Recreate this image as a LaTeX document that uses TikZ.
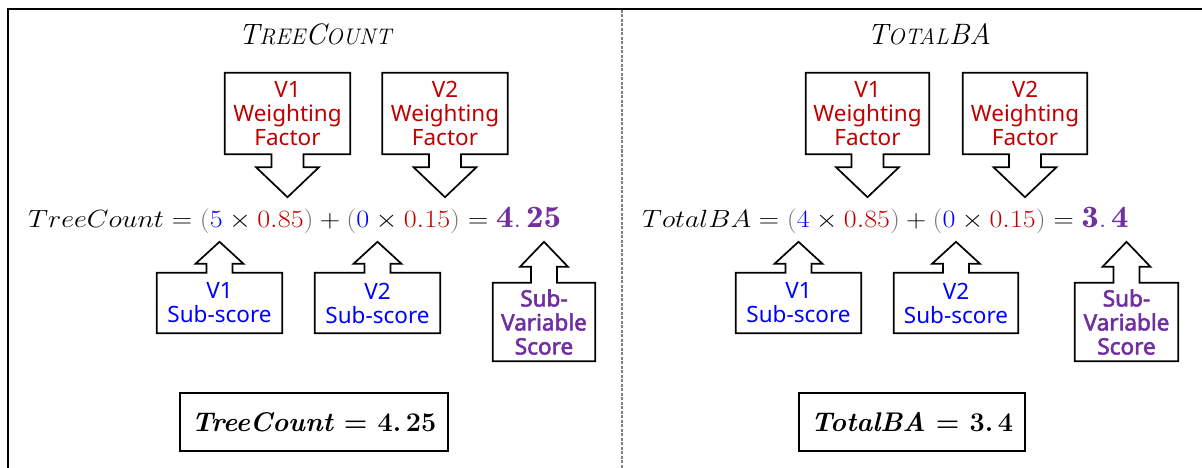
\documentclass[tikz,border=0pt]{standalone}
\usepackage{amsmath}
\usepackage{graphicx}
\usepackage{fontspec}
\usetikzlibrary{calc}
\newfontfamily\calfont{Noto Sans}
\newfontfamily\calbold{Noto Sans}[FakeBold=2.5]
\definecolor{wred}{HTML}{C00000}
\definecolor{sblue}{HTML}{0000FF}
\definecolor{spurple}{HTML}{7030A0}
\definecolor{pgray}{HTML}{767171}
\newcommand\bigcapsl[1]{{\fontsize{29.5}{29.5}\selectfont #1}}
\newcommand\pl[1]{{\color{pgray}#1}}
\tikzset{
  calltext/.style={inner sep=0pt, align=center, font=\calfont\fontsize{22.5}{24}\selectfont},
  boldcall/.style={text=spurple, font=\calbold\fontsize{22.5}{24}\selectfont},
  callline/.style={draw=black, line width=1.7pt, line join=miter},
  resbox/.style={draw=black, line width=1.3pt, inner sep=0pt, font=\bfseries\fontsize{27}{27}\selectfont},
  eqtext/.style={inner sep=0pt, anchor=base west},
  titletext/.style={inner sep=0pt, anchor=base, font=\itshape\fontsize{22.5}{22.5}\selectfont},
}
% down callout: name, center, width, height, style, text
\newcommand\dcall[6]{%
  \node[calltext, minimum width=#3pt, minimum height=#4pt, #5] (#1) at (#2) {#6};
  \draw[callline] (#1.south west) -- (#1.north west) -- (#1.north east) -- (#1.south east)
    -- ($(#1.south)+(16,0)$) -- ($(#1.south)+(16,13)$) -- ($(#1.south)+(31.5,13)$)
    -- ($(#1.south)+(0,43)$) -- ($(#1.south)+(-31.5,13)$) -- ($(#1.south)+(-16,13)$)
    -- ($(#1.south)+(-16,0)$) -- cycle;
}
% up callout: name, center, width, height, style, text, stem length, tip distance
\newcommand\ucall[8]{%
  \node[calltext, minimum width=#3pt, minimum height=#4pt, #5] (#1) at (#2) {#6};
  \draw[callline] (#1.north west) -- (#1.south west) -- (#1.south east) -- (#1.north east)
    -- ($(#1.north)+(13,0)$) -- ($(#1.north)+(13,-#7)$) -- ($(#1.north)+(24,-#7)$)
    -- ($(#1.north)+(0,-#8)$) -- ($(#1.north)+(-24,-#7)$) -- ($(#1.north)+(-13,-#7)$)
    -- ($(#1.north)+(-13,0)$) -- cycle;
}
\begin{document}
\begin{tikzpicture}[x=1pt, y=-1pt]
\useasboundingbox (0,0) rectangle (1202,468);
% frame
\draw[line width=2.5pt] (8,468) -- (8,9) -- (1202,9);
\draw[gray, line width=1.2pt, dash pattern=on 3pt off 1.5pt] (622,10) -- (622,468);

% ---------- left panel ----------
\node[titletext] (tL) at (315,45) {\bigcapsl{T}REE\bigcapsl{C}OUNT};
\dcall{wfL1}{287.5,113.5}{125}{81}{text=wred}{V1\\Weighting\\Factor}
\dcall{wfL2}{445,113.5}{125}{81}{text=wred}{V2\\Weighting\\Factor}
\node[eqtext] (eqL) at (28,227) {\fontsize{31}{31}\selectfont\scalebox{1.132}[1]{%
  $TreeCount = \pl{(}{\color{sblue}5}\times{\color{wred}0.85}\pl{)} + \pl{(}{\color{sblue}0}\times{\color{wred}0.15}\pl{)} = {\color{spurple}\mathbf{4.\,25}}$}};
\ucall{ssL1}{219.5,303}{125}{60}{text=sblue}{V1\\Sub-score}{9}{31}
\ucall{ssL2}{377.5,303}{125}{60}{text=sblue}{V2\\Sub-score}{9}{31}
\ucall{svL}{544,322}{102}{78}{boldcall}{Sub-\\Variable\\Score}{16}{41}
\node[resbox, minimum width=268pt, minimum height=58pt] (resL) at (314,422) {\textit{TreeCount} = 4.\,25};

% ---------- right panel ----------
\node[titletext] (tR) at (929,45) {\bigcapsl{T}OTAL\bigcapsl{BA}};
\dcall{wfR1}{867.5,113.5}{123}{81}{text=wred}{V1\\Weighting\\Factor}
\dcall{wfR2}{1025,113.5}{124}{81}{text=wred}{V2\\Weighting\\Factor}
\node[eqtext] (eqR) at (642,227) {\fontsize{31}{31}\selectfont\scalebox{1.126}[1]{%
  $TotalBA = \pl{(}{\color{sblue}4}\times{\color{wred}0.85}\pl{)} + \pl{(}{\color{sblue}0}\times{\color{wred}0.15}\pl{)} = {\color{spurple}\mathbf{3.\,4}}$}};
\ucall{ssR1}{798.5,303}{125}{60}{text=sblue}{V1\\Sub-score}{9}{31}
\ucall{ssR2}{956,303}{124}{60}{text=sblue}{V2\\Sub-score}{9}{31}
\ucall{svR}{1126.5,322}{103}{78}{boldcall}{Sub-\\Variable\\Score}{16}{41}
\node[resbox, minimum width=226pt, minimum height=58pt] (resR) at (912,422) {\textit{TotalBA} = 3.\,4};
\end{tikzpicture}
\end{document}
